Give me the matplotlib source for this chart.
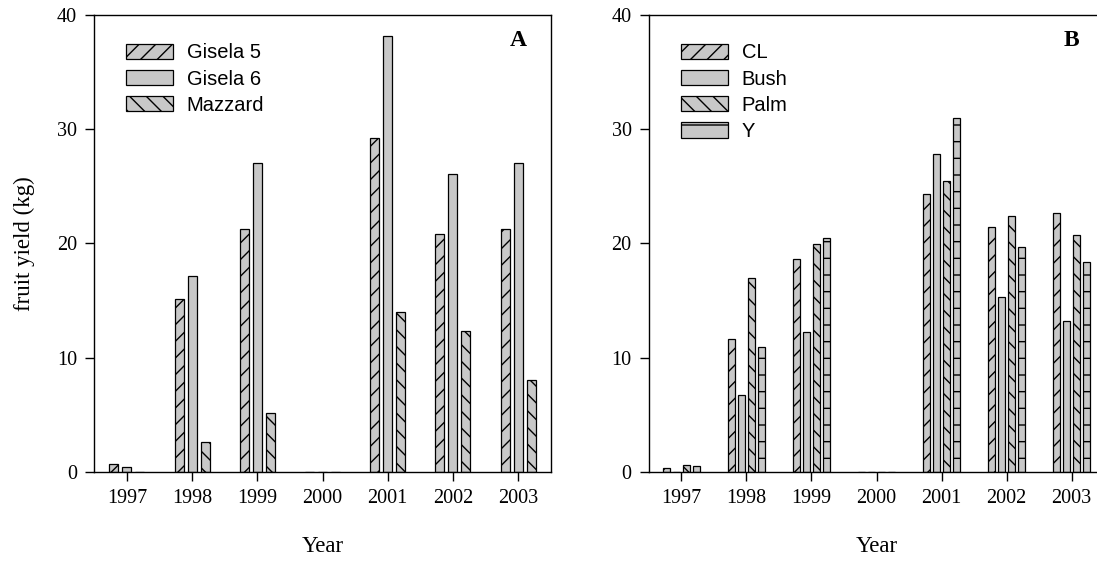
import matplotlib
matplotlib.use("Agg")
import matplotlib.pyplot as plt
import numpy as np

plt.rcParams['font.family'] = ['Liberation Serif', 'DejaVu Serif']
plt.rcParams['hatch.linewidth'] = 1.0

years = [1997, 1998, 1999, 2000, 2001, 2002, 2003]

# panel A: rootstocks
rootstocks = ["Gisela 5", "Gisela 6", "Mazzard"]
gisela5 = [0.7, 15.1, 21.3, 0, 29.2, 20.8, 21.3]
gisela6 = [0.4, 17.1, 27.0, 0, 38.2, 26.1, 27.0]
mazzard = [0, 2.6, 5.1, 0, 14.0, 12.3, 8.0]

# panel B: training systems
systems = ["CL", "Bush", "Palm", "Y"]
cl = [0.3, 11.6, 18.6, 0, 24.3, 21.4, 22.7]
bush = [0, 6.7, 12.2, 0, 27.8, 15.3, 13.2]
palm = [0.6, 17.0, 19.9, 0, 25.5, 22.4, 20.7]
ysys = [0.5, 10.9, 20.5, 0, 31.0, 19.7, 18.4]

face = '#c8c8c8'
tick_fs = 14.5
label_fs = 16.5

fig = plt.figure(figsize=(10.97, 5.62), dpi=100)
axA = fig.add_axes([0.086, 0.1607, 0.416, 0.8126])
axB = fig.add_axes([0.5916, 0.1607, 0.4148, 0.8126])

x = np.array(years, dtype=float)


def style(ax):
    ax.set_xlim(1996.5, 2003.5)
    ax.set_ylim(0, 40)
    ax.set_xticks(years)
    ax.set_yticks([0, 10, 20, 30, 40])
    ax.tick_params(direction='out', length=6.5, width=1, labelsize=tick_fs, pad=6,
                   top=False, right=False)
    for s in ax.spines.values():
        s.set_linewidth(1.0)
    ax.set_xlabel("Year", fontsize=label_fs, labelpad=20)


def legend(ax, xa):
    ax.legend(loc='upper left', bbox_to_anchor=(xa, 0.938), frameon=False,
              borderpad=0, borderaxespad=0, handlelength=2.34, handleheight=0.78,
              handletextpad=0.67, labelspacing=0.36,
              prop={'family': 'Liberation Sans', 'size': 14.5})


# panel A
hatchesA = ['//', '', '\\\\']
for i, (vals, name) in enumerate(zip([gisela5, gisela6, mazzard], rootstocks)):
    axA.bar(x + (i - 1) * 0.2, vals, width=0.138, color=face, edgecolor='black',
            linewidth=0.9, hatch=hatchesA[i], label=name)
style(axA)
axA.set_ylabel("fruit yield (kg)", fontsize=label_fs, labelpad=16)
axA.text(2003, 37.8, "A", fontsize=17, fontweight='bold', ha='center', va='center')
legend(axA, 0.0695)

# panel B
hatchesB = ['//', '', '\\\\', '-']
for i, (vals, name) in enumerate(zip([cl, bush, palm, ysys], systems)):
    axB.bar(x + (i - 1.5) * 0.154, vals, width=0.112, color=face, edgecolor='black',
            linewidth=0.9, hatch=hatchesB[i], label=name)
style(axB)
axB.text(2003, 37.8, "B", fontsize=17, fontweight='bold', ha='center', va='center')
legend(axB, 0.0703)

fig.savefig("out.png", dpi=100)
